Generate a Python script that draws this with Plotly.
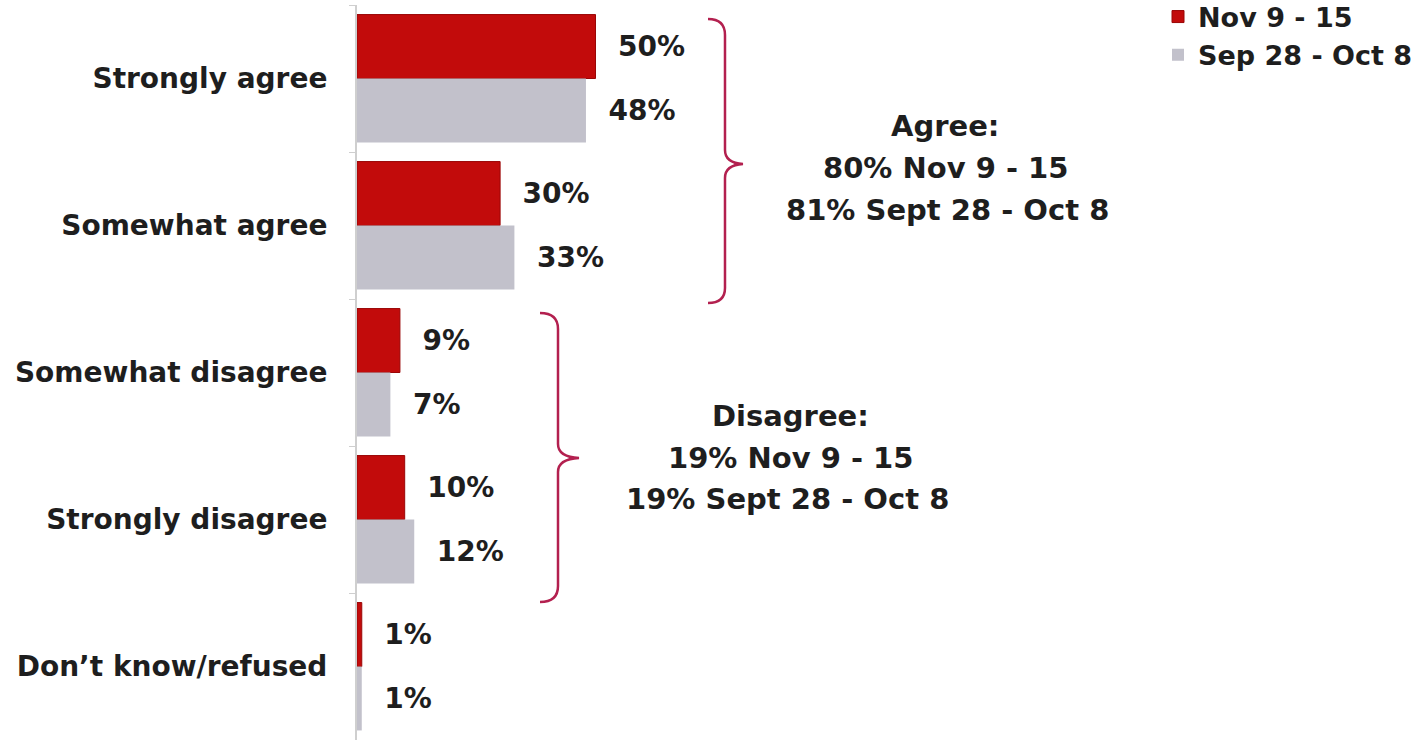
import plotly.graph_objects as go

# ---- data ----
categories = ["Strongly agree", "Somewhat agree", "Somewhat disagree",
              "Strongly disagree", "Don\u2019t know/refused"]
nov_values = [50, 30, 9, 10, 1]
sep_values = [48, 33, 7, 12, 1]
series_names = ["Nov 9 - 15", "Sep 28 - Oct 8"]
agree_lines = ["Agree:", "80% Nov 9 - 15", "81% Sept 28 - Oct 8"]
disagree_lines = ["Disagree:", "19% Nov 9 - 15", "19% Sept 28 - Oct 8"]

# ---- layout constants (pixels) ----
W, H = 1421, 741
ML, MR, MT, MB = 357, 0, 5, 1
PW, PH = W - ML - MR, H - MT - MB
PX_PER_PCT = 4.77

FONT = "DejaVu Sans"
RED = "#c20b0b"
GREY = "#c2c1cb"
BRACKET = "#b3204f"
TEXT = "#1e1e1e"


def px(x):
    return (x - ML) / PW


def py(y):
    return 1 - (y - MT) / PH


def bracket_path(pts):
    out = []
    for cmd, coords in pts:
        s = " ".join(f"{px(coords[i]):.5f},{py(coords[i+1]):.5f}" for i in range(0, len(coords), 2))
        out.append(f"{cmd} {s}")
    return " ".join(out)


def nb(v):
    return "\u00a0\u00a0" + f"{v}%"


fig = go.Figure()
fig.add_trace(go.Bar(
    y=categories, x=nov_values, name=series_names[0], orientation="h",
    marker=dict(color=RED, line=dict(color="#9a0606", width=1)),
    text=[nb(v) for v in nov_values], textposition="outside",
    textfont=dict(family=FONT, size=28, color=TEXT, weight=700),
    constraintext="none", cliponaxis=False,
))
fig.add_trace(go.Bar(
    y=categories, x=sep_values, name=series_names[1], orientation="h",
    marker=dict(color=GREY, line=dict(width=0)),
    text=[nb(v) for v in sep_values], textposition="outside",
    textfont=dict(family=FONT, size=28, color=TEXT, weight=700),
    constraintext="none", cliponaxis=False,
))

agree_path = bracket_path([
    ("M", [708, 19]), ("Q", [725, 19, 725, 35]), ("L", [725, 150]),
    ("Q", [725, 163, 743, 164]), ("Q", [725, 165, 725, 178]), ("L", [725, 288]),
    ("Q", [725, 303, 708, 303]),
])
disagree_path = bracket_path([
    ("M", [540, 313]), ("Q", [558, 313, 558, 329]), ("L", [558, 444]),
    ("Q", [558, 457, 579, 458]), ("Q", [558, 459, 558, 472]), ("L", [558, 586]),
    ("Q", [558, 602, 540, 602]),
])
shapes = [
    dict(type="path", path=agree_path, xref="paper", yref="paper",
         line=dict(color=BRACKET, width=2.5)),
    dict(type="path", path=disagree_path, xref="paper", yref="paper",
         line=dict(color=BRACKET, width=2.5)),
]

annotations = []
for txt, (x, y) in zip(agree_lines, [(945, 126), (945, 168), (947, 210)]):
    annotations.append(dict(text=txt, x=px(x), y=py(y), xref="paper", yref="paper",
                            showarrow=False, xanchor="center", yanchor="middle",
                            font=dict(family=FONT, size=29, color=TEXT, weight=700)))
for txt, (x, y) in zip(disagree_lines, [(790, 416), (790, 458), (787, 499)]):
    annotations.append(dict(text=txt, x=px(x), y=py(y), xref="paper", yref="paper",
                            showarrow=False, xanchor="center", yanchor="middle",
                            font=dict(family=FONT, size=29, color=TEXT, weight=700)))

fig.update_layout(
    width=W, height=H,
    margin=dict(l=ML, r=MR, t=MT, b=MB, pad=0, autoexpand=False),
    paper_bgcolor="white", plot_bgcolor="white",
    barmode="group", bargap=0.13, bargroupgap=0,
    showlegend=True,
    legend=dict(x=px(1158), y=1.017, xanchor="left", yanchor="top",
                font=dict(family=FONT, size=27, color=TEXT, weight=700),
                bgcolor="rgba(0,0,0,0)", traceorder="normal", tracegroupgap=0),
    xaxis=dict(visible=False, range=[0, PW / PX_PER_PCT]),
    yaxis=dict(autorange="reversed", showline=True, linecolor="#cfcfcf", linewidth=2,
               ticks="outside", tickson="boundaries", ticklen=6, tickcolor="#cfcfcf",
               ticklabelstandoff=22, showgrid=False, zeroline=False,
               tickfont=dict(family=FONT, size=28, color=TEXT, weight=700)),
    shapes=shapes, annotations=annotations,
)

fig.write_html("out.html", config={"displayModeBar": False},
               post_script="document.body.style.margin='0';")
